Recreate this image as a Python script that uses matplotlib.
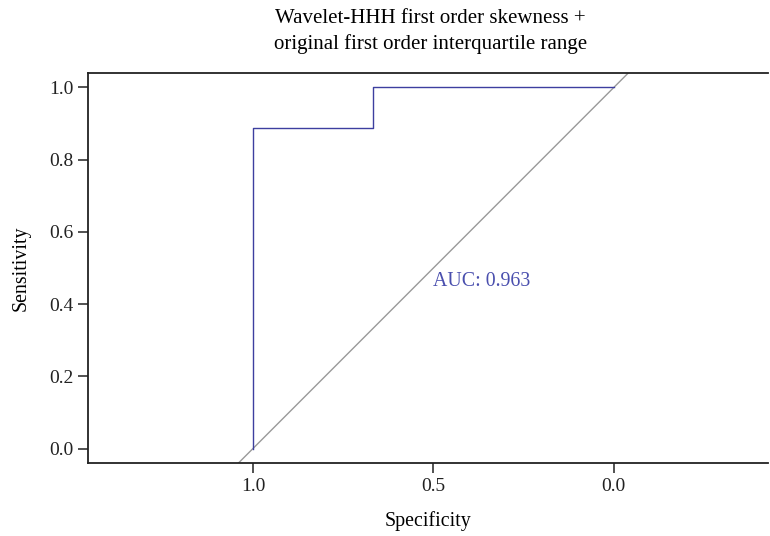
import matplotlib as mpl
mpl.use('Agg')
import matplotlib.pyplot as plt

# ROC curve points (specificity, sensitivity)
spec = [1.0, 1.0, 0.667, 0.667, 0.0]
sens = [0.0, 0.889, 0.889, 1.0, 1.0]
auc = 0.963
ticks = [1.0, 0.5, 0.0]
yticks = [0.0, 0.2, 0.4, 0.6, 0.8, 1.0]

plt.rcParams['font.family'] = ['Liberation Serif', 'DejaVu Serif']

fig = plt.figure(figsize=(7.7, 5.36), dpi=100)
ax = fig.add_axes([0.1143, 0.1362, 0.883, 0.7276])

# chance diagonal across the whole plot area
ax.axline((1.0, 0.0), (0.0, 1.0), color='#999999', lw=1.0, zorder=1)
ax.plot(spec, sens, color='#3d3f9f', lw=1.0, zorder=2)
ax.text(0.5, 0.49, "AUC: %.3f" % auc, color='#4a4fae', fontsize=14.3,
        ha='left', va='top')

ax.set_xlim(1.457, -0.427)
ax.set_ylim(-0.04, 1.04)
ax.set_xticks(ticks)
ax.set_xticklabels(["%.1f" % t for t in ticks])
ax.set_yticks(yticks)
ax.set_yticklabels(["%.1f" % t for t in yticks])
ax.tick_params(labelsize=14, length=7, width=1.2, colors='#333333', labelcolor='#222222')
for s in ['left', 'bottom', 'top']:
    ax.spines[s].set_linewidth(1.3)
    ax.spines[s].set_color('#222222')
ax.spines['right'].set_visible(False)

ax.set_xlabel("Specificity", fontsize=14.3, labelpad=12)
ax.set_ylabel("Sensitivity", fontsize=14.3, labelpad=13)
fig.text(0.559, 0.965, "Wavelet-HHH first order skewness +", fontsize=15, ha='center', va='center')
fig.text(0.559, 0.918, "original first order interquartile range", fontsize=15, ha='center', va='center')

plt.savefig("out.png")
